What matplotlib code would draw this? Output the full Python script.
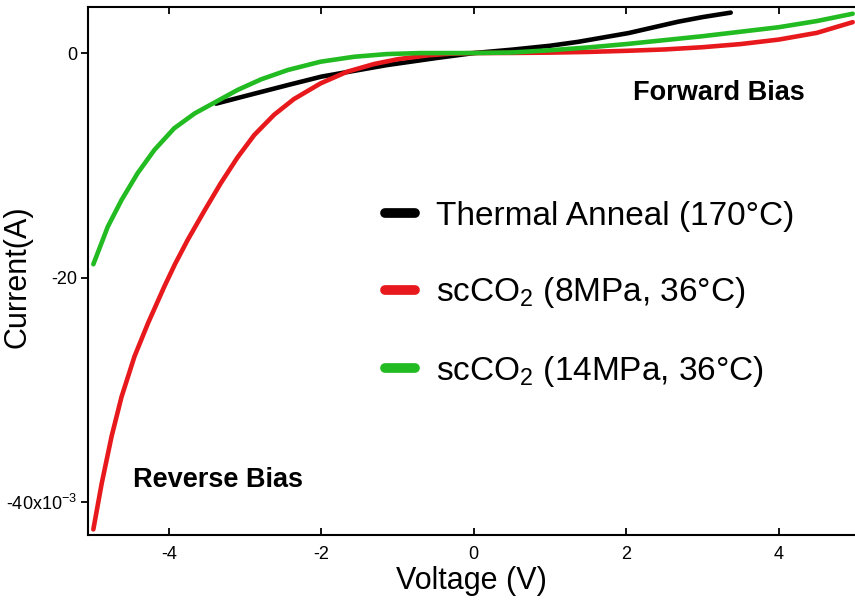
import matplotlib
matplotlib.use('Agg')
import matplotlib.pyplot as plt
from matplotlib.ticker import FixedLocator, FixedFormatter

plt.rcParams['font.family'] = ['Liberation Sans', 'DejaVu Sans']
plt.rcParams['mathtext.fontset'] = 'custom'
plt.rcParams['mathtext.rm'] = 'Liberation Sans'
plt.rcParams['mathtext.default'] = 'regular'
plt.rcParams['axes.unicode_minus'] = False

# voltage (V) and current (mA)
thermal_v = [-3.38, -3.0, -2.44, -2.0, -1.5, -1.14, -0.5, 0.0, 0.5, 1.0, 1.37, 2.03, 2.68, 3.0, 3.37]
thermal_i = [-4.5, -3.83, -2.85, -2.1, -1.5, -1.07, -0.45, 0.0, 0.3, 0.65, 1.0, 1.78, 2.79, 3.2, 3.6]

sc8_v = [-4.99, -4.88, -4.75, -4.62, -4.45, -4.27, -4.06, -3.92, -3.75, -3.53, -3.32, -3.10,
         -2.88, -2.62, -2.36, -2.01, -1.66, -1.31, -1.0, -0.6, -0.3, 0.0,
         0.5, 1.0, 1.5, 2.0, 2.5, 3.0, 3.5, 4.0, 4.5, 4.97]
sc8_i = [-42.4, -38.3, -34.1, -30.6, -27.0, -24.0, -20.8, -18.8, -16.6, -14.0, -11.6, -9.3,
         -7.3, -5.5, -4.1, -2.7, -1.66, -0.98, -0.55, -0.2, -0.05, 0.0,
         0.01, 0.04, 0.1, 0.2, 0.32, 0.52, 0.8, 1.2, 1.8, 2.75]

sc14_v = [-4.99, -4.80, -4.62, -4.41, -4.19, -3.93, -3.66, -3.38, -3.10, -2.79, -2.44, -2.01,
          -1.57, -1.14, -0.7, 0.0, 0.5, 1.0, 1.5, 2.0, 2.5, 3.0, 3.5, 4.0, 4.5, 4.97]
sc14_i = [-18.8, -15.45, -13.08, -10.7, -8.63, -6.7, -5.37, -4.33, -3.29, -2.34, -1.51, -0.77,
          -0.33, -0.09, 0.0, 0.0, 0.05, 0.25, 0.5, 0.8, 1.15, 1.5, 1.9, 2.3, 2.85, 3.5]

labels = ['Thermal Anneal (170°C)', 'scCO$_2$ (8MPa, 36°C)', 'scCO$_2$ (14MPa, 36°C)']
colors = ['black', '#e8191c', '#22bb22']

x_ticks = [-4, -2, 0, 2, 4]
y_ticks = [-40, -20, 0]
y_ticklabels = ['-40x10$^{-3}$', '-20', '0']

fig = plt.figure(figsize=(8.55, 6), dpi=100)
ax = fig.add_axes([88 / 855, 65 / 600, 1 - 88 / 855, 528 / 600])

ax.plot(thermal_v, thermal_i, color=colors[0], lw=3.3, label=labels[0], solid_capstyle='round')
ax.plot(sc8_v, sc8_i, color=colors[1], lw=3.3, label=labels[1], solid_capstyle='round')
ax.plot(sc14_v, sc14_i, color=colors[2], lw=3.3, label=labels[2], solid_capstyle='round')

ax.set_xlim(-5.06, 5.0)
ax.set_ylim(-42.9, 4.1)

ax.xaxis.set_major_locator(FixedLocator(x_ticks))
ax.yaxis.set_major_locator(FixedLocator(y_ticks))
ax.yaxis.set_major_formatter(FixedFormatter(y_ticklabels))
ax.tick_params(axis='x', direction='in', top=True, length=5, width=1.3, labelsize=13, pad=8)
ax.tick_params(axis='y', direction='out', length=5, width=1.3, labelsize=13, pad=3)

for side in ['left', 'bottom', 'top']:
    ax.spines[side].set_linewidth(1.5)
ax.spines['right'].set_visible(False)

ax.set_xlabel('Voltage (V)', fontsize=22, labelpad=2)
ax.set_ylabel('Current(A)', fontsize=22)
ax.yaxis.set_label_coords(-0.073, 0.49)

ax.text(3.22, -3.56, 'Forward Bias', fontsize=19.5, fontweight='bold', ha='center', va='center')
ax.text(-3.35, -38.0, 'Reverse Bias', fontsize=19.5, fontweight='bold', ha='center', va='center')

leg = ax.legend(loc='upper left', bbox_to_anchor=(385 / 855, 1 - 201 / 600),
                bbox_transform=fig.transFigure, frameon=False, fontsize=24,
                handlelength=0.9, handletextpad=0.63, labelspacing=1.3,
                borderpad=0, borderaxespad=0)
for line in leg.get_lines():
    line.set_linewidth(7)
    line.set_solid_capstyle('round')

plt.savefig('out.png', dpi=100)
